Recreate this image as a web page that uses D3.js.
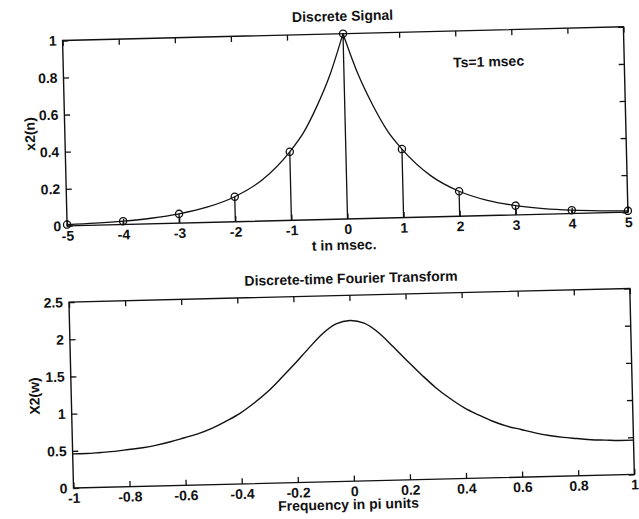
<!DOCTYPE html>
<html>
<head>
<meta charset="utf-8">
<script src="https://cdn.jsdelivr.net/npm/d3@7"></script>
<style>
  body { margin: 0; background: #fff; }
  svg { display: block; }
  text { font-family: "Liberation Sans", Arial, sans-serif; font-weight: bold; font-size: 14px; fill: #111; }
</style>
</head>
<body>
<svg id="chart" width="639" height="519"></svg>
<script>
// --- data ---
// top panel: samples x2(n), n = -5..5 (Ts = 1 msec)
const sampleT = [-5, -4, -3, -2, -1, 0, 1, 2, 3, 4, 5];
const sampleX = [0.007, 0.018, 0.05, 0.135, 0.37, 1, 0.37, 0.135, 0.05, 0.018, 0.007];

// top panel: continuous envelope
const curveT = [-5, -4.5, -4, -3.5, -3, -2.5, -2, -1.5, -1, -0.75, -0.5, -0.25, 0,
                0.25, 0.5, 0.75, 1, 1.5, 2, 2.5, 3, 3.5, 4, 4.5, 5];
const curveX = [0.007, 0.011, 0.018, 0.03, 0.05, 0.082, 0.135, 0.223, 0.37, 0.47, 0.61, 0.78, 1,
                0.78, 0.61, 0.47, 0.37, 0.223, 0.135, 0.082, 0.05, 0.03, 0.018, 0.011, 0.007];

// bottom panel: DTFT magnitude, w in pi units
const freqW = [-1, -0.95, -0.9, -0.85, -0.8, -0.75, -0.7, -0.65, -0.6, -0.55, -0.5,
               -0.45, -0.4, -0.35, -0.3, -0.25, -0.2, -0.15, -0.1, -0.05, 0,
               0.05, 0.1, 0.15, 0.2, 0.25, 0.3, 0.35, 0.4, 0.45, 0.5,
               0.55, 0.6, 0.65, 0.7, 0.75, 0.8, 0.85, 0.9, 0.95, 1];
const freqX = [0.46, 0.46, 0.47, 0.48, 0.50, 0.52, 0.55, 0.59, 0.64, 0.69, 0.76,
               0.85, 0.95, 1.08, 1.23, 1.41, 1.60, 1.80, 1.99, 2.12, 2.16,
               2.12, 1.99, 1.80, 1.60, 1.41, 1.23, 1.08, 0.95, 0.85, 0.76,
               0.69, 0.64, 0.59, 0.55, 0.52, 0.50, 0.48, 0.47, 0.46, 0.46];

// tick labels
const topXTicks = [-5, -4, -3, -2, -1, 0, 1, 2, 3, 4, 5];
const topYTicks = [0, 0.2, 0.4, 0.6, 0.8, 1];
const botXTicks = [-1, -0.8, -0.6, -0.4, -0.2, 0, 0.2, 0.4, 0.6, 0.8, 1];
const botYTicks = [0, 0.5, 1, 1.5, 2, 2.5];

// --- layout ---
const svg = d3.select("#chart");
svg.append("rect").attr("width", 639).attr("height", 519).attr("fill", "#fff");

// the scanned page sits slightly tilted
const page = svg.append("g").attr("transform", "rotate(-1.4, 319.5, 259.5)");

const left = 68, right = 629;
const tick = 5.6;
const fmt = d => String(d);

function frame(g, x, y, xt, yt) {
  const [y0, y1] = y.range();
  g.append("g").attr("transform", `translate(0,${y0})`)
    .call(d3.axisBottom(x).tickValues(xt).tickFormat(fmt).tickSizeInner(-tick).tickSizeOuter(0).tickPadding(5));
  g.append("g").attr("transform", `translate(0,${y1})`)
    .call(d3.axisTop(x).tickValues(xt).tickFormat("").tickSizeInner(-tick).tickSizeOuter(0));
  g.append("g").attr("transform", `translate(${left},0)`)
    .call(d3.axisLeft(y).tickValues(yt).tickFormat(fmt).tickSizeInner(-tick).tickSizeOuter(0).tickPadding(6));
  g.append("g").attr("transform", `translate(${right},0)`)
    .call(d3.axisRight(y).tickValues(yt).tickFormat("").tickSizeInner(-tick).tickSizeOuter(0));
  g.selectAll(".domain").remove();
  g.selectAll(".tick line").attr("stroke", "#111").attr("stroke-width", 1.3);
  g.selectAll(".tick text").attr("fill", "#111").style("font-size", "14px")
    .style("font-family", '"Liberation Sans", Arial, sans-serif').style("font-weight", "bold");
  g.append("rect")
    .attr("x", left).attr("y", y1)
    .attr("width", right - left).attr("height", y0 - y1)
    .attr("fill", "none").attr("stroke", "#111").attr("stroke-width", 1.4);
}

// --- top panel ---
const topPanel = page.append("g");
const xTop = d3.scaleLinear().domain([-5, 5]).range([left, right]);
const yTop = d3.scaleLinear().domain([0, 1]).range([219.7, 34.3]);

const env = curveT.map((t, i) => ({ t, v: curveX[i] }));
const envLine = d3.line().x(d => xTop(d.t)).y(d => yTop(d.v)).curve(d3.curveMonotoneX);
[env.filter(d => d.t <= 0), env.filter(d => d.t >= 0)].forEach(part => {
  topPanel.append("path").attr("d", envLine(part))
    .attr("fill", "none").attr("stroke", "#111").attr("stroke-width", 1.3);
});

const samples = sampleT.map((t, i) => ({ t, v: sampleX[i] }));
topPanel.selectAll("line.stem").data(samples).join("line")
  .attr("class", "stem")
  .attr("x1", d => xTop(d.t)).attr("x2", d => xTop(d.t))
  .attr("y1", yTop(0)).attr("y2", d => yTop(d.v))
  .attr("stroke", "#111").attr("stroke-width", 1.3);
topPanel.selectAll("circle.mark").data(samples).join("circle")
  .attr("class", "mark")
  .attr("cx", d => xTop(d.t)).attr("cy", d => yTop(d.v)).attr("r", 3.6)
  .attr("fill", "none").attr("stroke", "#111").attr("stroke-width", 1.3);

frame(topPanel, xTop, yTop, topXTicks, topYTicks);

topPanel.append("text").attr("x", (left + right) / 2).attr("y", 21.5)
  .attr("text-anchor", "middle").text("Discrete Signal");
topPanel.append("text").attr("x", (left + right) / 2 - 4).attr("y", 250.5)
  .attr("text-anchor", "middle").text("t in msec.");
topPanel.append("text").attr("transform", `translate(38,127) rotate(-90)`)
  .attr("text-anchor", "middle").text("x2(n)");
topPanel.append("text").attr("x", xTop(1.95)).attr("y", yTop(0.83)).attr("dy", "0.35em")
  .text("Ts=1 msec");

// --- bottom panel ---
const botPanel = page.append("g");
const xBot = d3.scaleLinear().domain([-1, 1]).range([left, right]);
const yBot = d3.scaleLinear().domain([0, 2.5]).range([482, 296]);

const spec = freqW.map((w, i) => ({ w, v: freqX[i] }));
botPanel.append("path")
  .attr("d", d3.line().x(d => xBot(d.w)).y(d => yBot(d.v)).curve(d3.curveMonotoneX)(spec))
  .attr("fill", "none").attr("stroke", "#111").attr("stroke-width", 1.4);

frame(botPanel, xBot, yBot, botXTicks, botYTicks);

botPanel.append("text").attr("x", (left + right) / 2 + 2).attr("y", 284)
  .attr("text-anchor", "middle").text("Discrete-time Fourier Transform");
botPanel.append("text").attr("x", (left + right) / 2 - 6).attr("y", 510)
  .attr("text-anchor", "middle").text("Frequency in pi units");
botPanel.append("text").attr("transform", `translate(36,389) rotate(-90)`)
  .attr("text-anchor", "middle").text("X2(w)");
</script>
</body>
</html>
